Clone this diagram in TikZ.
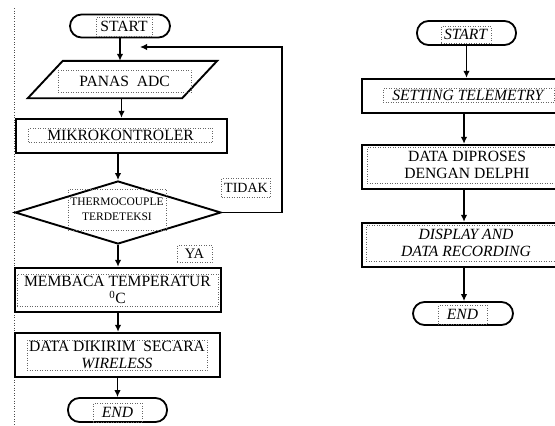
\documentclass[tikz,border=0pt]{standalone}
\usepackage{fontspec}
\setmainfont{Liberation Serif}
\usetikzlibrary{arrows.meta,shapes.geometric}

\begin{document}
\begin{tikzpicture}[x=1pt, y=-1pt,
      every node/.style={font=\fontsize{15.6}{16.5}\selectfont, align=center, inner sep=0pt},
      term/.style={draw, line width=1.8pt, rounded corners=11.5pt,
                   minimum width=#1, minimum height=23pt},
      proc/.style={draw, line width=2.3pt, minimum width=#1, minimum height=44pt},
      tbox/.style={draw=black!60, dotted, line width=0.5pt, minimum width=#1},
      arrow/.style={-{Latex[length=7pt,width=6.5pt]}, line width=1.6pt},
  ]
    \useasboundingbox (0,0) rectangle (555,426);
    % page margin line
    \draw[black!70, dotted, line width=0.6pt] (14,8) -- (14,426);

    % left chart
    \node[term=100pt] (startL) at (120,26) {};
    \node[tbox=56pt, minimum height=19pt] at (124,26.5) {START};

    \node[minimum width=154pt, minimum height=37pt] (adc) at (122.5,79.5) {};
    \draw[line width=1.9pt] ([xshift=-17.5pt]adc.south west) -- ([xshift=17.5pt]adc.north west)
      -- ([xshift=17.5pt]adc.north east) -- ([xshift=-17.5pt]adc.south east) -- cycle;
    \node[tbox=133pt, minimum height=22pt] at (124.5,81) {PANAS\ \ ADC};

    \node[proc=211pt, minimum height=34pt] (mcu) at (121.5,136) {};
    \node[tbox=184pt, minimum height=14pt] at (120.5,135) {MIKROKONTROLER};

    \node[diamond, draw, line width=1.9pt, minimum width=206pt, minimum height=63pt] (cek) at (118,212.5) {};
    \node[tbox=98pt, minimum height=41pt, font=\fontsize{11.5}{15}\selectfont] at (117,209.5)
      {THERMOCOUPLE\\TERDETEKSI};
    \node[tbox=49pt, minimum height=19pt, font=\fontsize{14}{16}\selectfont] (tidak) at (246,187.5) {TIDAK};
    \node[tbox=35pt, minimum height=17pt, font=\fontsize{14.5}{16}\selectfont] (ya) at (194.5,253.5) {YA};

    \node[proc=206pt] (suhu) at (118,290) {};
    \node[tbox=201pt, minimum height=32pt] at (117.5,290) {MEMBACA TEMPERATUR\\\textsuperscript{0}C};

    \node[proc=205pt] (kirim) at (117.5,355) {};
    \node[tbox=180pt, minimum height=30pt] at (117,355) {DATA DIKIRIM\ \ SECARA\\\textit{WIRELESS}};

    \node[term=99pt, minimum height=24pt] (endL) at (117.5,410) {};
    \node[tbox=49pt, minimum height=19pt] at (117.5,412.5) {\textit{END}};

    \draw[arrow] (startL.south) -- (startL.south |- adc.north);
    \draw[arrow] (121.5,98) -- (mcu.north);
    \draw[arrow] (mcu.south -| cek.north) -- (cek.north);
    \draw[arrow] (cek.south) -- (cek.south |- suhu.north);
    \draw[arrow] (suhu.south) -- (suhu.south |- kirim.north);
    \draw[arrow] (kirim.south) -- (kirim.south |- endL.north);
    \coordinate (balik) at (140,47);
    \draw[arrow] (cek.east) -- (282,212.5) -- (282,47) -- (balik);

    % right chart
    \node[term=99pt, minimum height=24pt] (startR) at (466.5,33) {};
    \node[tbox=50pt, minimum height=17pt] at (466,34.5) {\textit{START}};

    \node[proc=204pt, minimum height=34pt] (tele) at (464,96) {};
    \node[tbox=171pt, minimum height=14pt] at (468.5,95) {\textit{SETTING TELEMETRY}};

    \node[proc=204pt] (delphi) at (464,167) {};
    \node[tbox=200pt, minimum height=36pt] at (467,165) {DATA DIPROSES\\DENGAN DELPHI};

    \node[proc=204pt] (rekam) at (464,245) {};
    \node[tbox=200pt, minimum height=36pt] at (466,243) {\textit{DISPLAY AND}\\\textit{DATA RECORDING}};

    \node[term=100pt] (endR) at (463,313.5) {};
    \node[tbox=49pt, minimum height=19pt] at (462.5,314.5) {\textit{END}};

    \draw[arrow] (startR.south) -- (startR.south |- tele.north);
    \draw[arrow] (tele.south) -- (delphi.north);
    \draw[arrow] (delphi.south) -- (rekam.north);
    \draw[arrow] (rekam.south) -- (rekam.south |- endR.north);
  \end{tikzpicture}
\end{document}
